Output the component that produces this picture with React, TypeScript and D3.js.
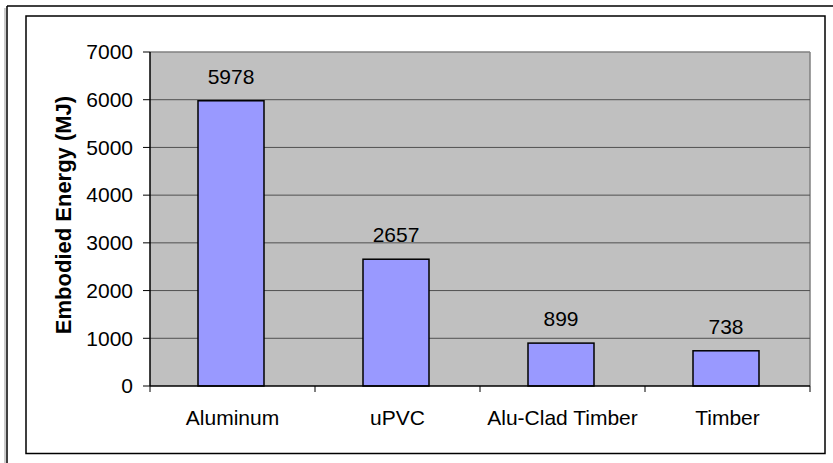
import React from "react";
import * as d3 from "d3";

const categories = ["Aluminum", "uPVC", "Alu-Clad Timber", "Timber"];
const values = [5978, 2657, 899, 738];
const yTicks = [0, 1000, 2000, 3000, 4000, 5000, 6000, 7000];
const yTitle = "Embodied Energy (MJ)";

export default function App() {
  const W = 833, H = 463;
  const left = 150, right = 810, top = 52, bottom = 386;
  const x = d3.scaleBand<string>().domain(categories).range([left, right]).paddingInner(0.6).paddingOuter(0.3);
  const xb = d3.scaleBand<string>().domain(categories).range([left, right]);
  const y = d3.scaleLinear().domain([0, 7000]).range([bottom, top]);
  const font = "Arial, 'Liberation Sans', sans-serif";
  const fs = 21;
  return (
    <svg width={W} height={H} style={{ position: "fixed", left: 0, top: 0 }} fontFamily={font}>
      <rect x={0} y={0} width={W} height={H} fill="#fff" />
      <line x1={7} y1={6} x2={W} y2={6} stroke="#000" strokeWidth={1.5} />
      <line x1={7} y1={6} x2={7} y2={H} stroke="#000" strokeWidth={1.5} />
      <line x1={5} y1={8} x2={5} y2={H} stroke="#999" strokeWidth={1} />
      <rect x={26} y={16} width={799} height={437.5} fill="#fff" stroke="#000" strokeWidth={1.5} />
      <rect x={left} y={top} width={right - left} height={bottom - top} fill="#C0C0C0" />
      <line x1={left} y1={top} x2={right} y2={top} stroke="#808080" strokeWidth={1.5} />
      <line x1={right} y1={top} x2={right} y2={bottom} stroke="#808080" strokeWidth={1.5} />
      {yTicks.filter((t) => t > 0 && t < 7000).map((t) => (
        <line key={"g" + t} x1={left} x2={right} y1={y(t)} y2={y(t)} stroke="#505050" strokeWidth={1} />
      ))}
      {categories.map((c, i) => (
        <g key={c}>
          <rect x={x(c)! - 1.5} y={y(values[i])} width={x.bandwidth()} height={bottom - y(values[i])} fill="#9999FF" stroke="#000" strokeWidth={1.5} />
          <text x={x(c)! - 1.5 + x.bandwidth() / 2} y={y(values[i]) - 17} textAnchor="middle" fontSize={fs} fill="#000">{values[i]}</text>
          <text x={xb(c)! + xb.bandwidth() / 2} y={425} textAnchor="middle" fontSize={fs} fill="#000">{c}</text>
        </g>
      ))}
      <line x1={left} y1={top} x2={left} y2={bottom} stroke="#000" strokeWidth={1.5} />
      <line x1={left} y1={bottom} x2={right} y2={bottom} stroke="#000" strokeWidth={1.5} />
      {yTicks.map((t) => (
        <g key={"t" + t}>
          <line x1={143} x2={left} y1={y(t)} y2={y(t)} stroke="#000" strokeWidth={1} />
          <text x={133} y={y(t)} dy="0.35em" textAnchor="end" fontSize={fs} fill="#000">{t}</text>
        </g>
      ))}
      {[...categories.map((c) => xb(c)!), right].map((v, i) => (
        <line key={"xt" + i} x1={v} x2={v} y1={bottom} y2={392} stroke="#000" strokeWidth={1} />
      ))}
      <text transform={`translate(71,215) rotate(-90)`} textAnchor="middle" fontSize={22} fontWeight="bold" fill="#000">{yTitle}</text>
    </svg>
  );
}
